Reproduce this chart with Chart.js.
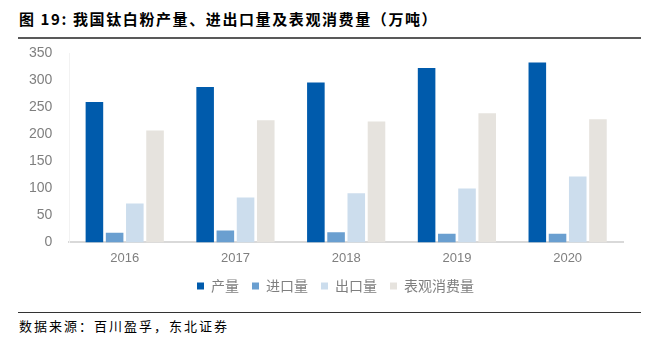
<!DOCTYPE html>
<html>
<head>
<meta charset="utf-8">
<script src="https://cdn.jsdelivr.net/npm/chart.js@4"></script>
<style>
  html, body { margin: 0; padding: 0; background: #fff; }
  #page { position: relative; width: 653px; height: 339px; overflow: hidden; }
  #title { position: absolute; left: 19px; top: 8px; font: bold 15px "Noto Sans CJK SC", sans-serif; letter-spacing: 1.6px; color: #000; white-space: nowrap; }
  #topline { position: absolute; left: 18px; top: 37px; width: 623px; height: 2px; background: #595959; }
  #chartbox { position: absolute; left: 0; top: 36px; width: 653px; height: 270px; }
  #bottomline { position: absolute; left: 18px; top: 312px; width: 623px; height: 1px; background: #333; }
  #source { position: absolute; left: 19px; top: 316px; font: 13px "Noto Sans CJK SC", sans-serif; letter-spacing: 2px; color: #000; white-space: nowrap; }
</style>
</head>
<body>
<div id="page">
  <div id="title">图 19: 我国钛白粉产量、进出口量及表观消费量（万吨）</div>
  <div id="topline"></div>
  <div id="chartbox"><canvas id="chart"></canvas></div>
  <div id="bottomline"></div>
  <div id="source">数据来源：百川盈孚，东北证券</div>
</div>
<script>
  // data
  const years = ["2016", "2017", "2018", "2019", "2020"];
  const output = [260, 288, 296, 323, 333];
  const imports = [18, 22, 19, 16, 16];
  const exports = [72, 83, 91, 100, 122];
  const consumption = [207, 226, 224, 239, 228];
  const yTicks = [0, 50, 100, 150, 200, 250, 300, 350];

  const ctx = document.getElementById("chart").getContext("2d");
  const bar = (label, data, color) => ({
    label: label,
    data: data,
    backgroundColor: color,
    borderWidth: 0,
    categoryPercentage: 0.73,
    barPercentage: 0.87,
  });

  // legend sits a bit right of centre in the original
  const shiftLegend = {
    id: "shiftLegend",
    afterLayout(chart) {
      chart.legend.left += 14;
      chart.legend.right += 14;
    },
  };

  new Chart(ctx, {
    type: "bar",
    data: {
      labels: years,
      datasets: [
        bar("产量", output, "#005BAC"),
        bar("进口量", imports, "#6A9FD0"),
        bar("出口量", exports, "#CCDDED"),
        bar("表观消费量", consumption, "#E6E3DE"),
      ],
    },
    options: {
      responsive: true,
      maintainAspectRatio: false,
      animation: false,
      layout: { padding: { left: 20, right: 30, top: 5, bottom: 3 } },
      plugins: {
        tooltip: { enabled: false },
        legend: {
          position: "bottom",
          labels: {
            boxWidth: 7,
            boxHeight: 7,
            padding: 13,
            color: "#7F7F7F",
            font: { family: "'Noto Sans CJK SC', sans-serif", size: 14 },
          },
        },
      },
      scales: {
        x: {
          grid: { display: false },
          border: { color: "#D9D9D9", width: 2 },
          ticks: { color: "#7F7F7F", font: { family: "'Liberation Sans', sans-serif", size: 13 }, padding: 0 },
        },
        y: {
          min: 0,
          max: 350,
          afterBuildTicks: (axis) => { axis.ticks = yTicks.map((v) => ({ value: v })); },
          grid: { display: false },
          border: { color: "#F2F2F2", width: 1 },
          ticks: { color: "#7F7F7F", font: { family: "'Liberation Sans', sans-serif", size: 14 }, padding: 9 },
        },
      },
    },
    plugins: [shiftLegend],
  });
</script>
</body>
</html>
